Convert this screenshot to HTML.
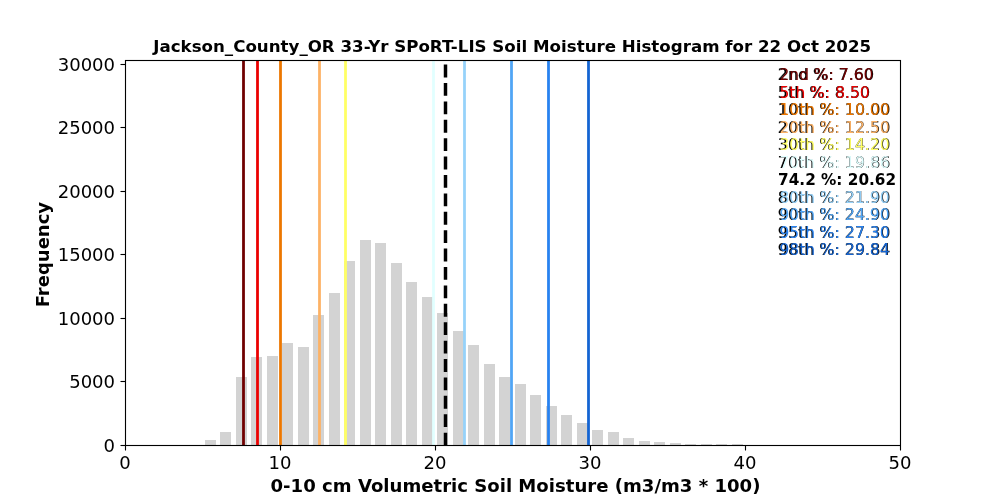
<!DOCTYPE html>
<html lang="en"><head><meta charset="utf-8"><title>Jackson_County_OR Soil Moisture Histogram</title>
<style>html,body{margin:0;padding:0;background:#fff;}body{width:1000px;height:500px;overflow:hidden;}svg{display:block;}text{font-family:"DejaVu Sans","Liberation Sans",sans-serif;fill:#000;}.b{font-weight:bold;}</style></head><body>
<svg width="1000" height="500" viewBox="0 0 1000 500">
<rect x="0" y="0" width="1000" height="500" fill="#fff"/>
<defs><clipPath id="ax"><rect x="125" y="60" width="775" height="385"/></clipPath></defs>
<g fill="#d3d3d3" shape-rendering="crispEdges">
<rect x="205" y="440" width="11" height="5"/>
<rect x="220" y="432" width="11" height="13"/>
<rect x="236" y="377" width="11" height="68"/>
<rect x="251" y="357" width="11" height="88"/>
<rect x="267" y="356" width="11" height="89"/>
<rect x="282" y="343" width="11" height="102"/>
<rect x="298" y="347" width="11" height="98"/>
<rect x="313" y="315" width="11" height="130"/>
<rect x="329" y="293" width="11" height="152"/>
<rect x="344" y="261" width="11" height="184"/>
<rect x="360" y="240" width="11" height="205"/>
<rect x="375" y="243" width="11" height="202"/>
<rect x="391" y="263" width="11" height="182"/>
<rect x="406" y="282" width="11" height="163"/>
<rect x="422" y="297" width="11" height="148"/>
<rect x="437" y="313" width="11" height="132"/>
<rect x="453" y="331" width="11" height="114"/>
<rect x="468" y="345" width="11" height="100"/>
<rect x="484" y="364" width="11" height="81"/>
<rect x="499" y="377" width="11" height="68"/>
<rect x="515" y="384" width="11" height="61"/>
<rect x="530" y="395" width="11" height="50"/>
<rect x="546" y="406" width="11" height="39"/>
<rect x="561" y="415" width="11" height="30"/>
<rect x="577" y="423" width="11" height="22"/>
<rect x="592" y="430" width="11" height="15"/>
<rect x="608" y="432" width="11" height="13"/>
<rect x="623" y="438" width="11" height="7"/>
<rect x="639" y="441" width="11" height="4"/>
<rect x="654" y="442" width="11" height="3"/>
<rect x="670" y="443" width="11" height="2"/>
<rect x="685" y="444" width="11" height="1"/>
<rect x="701" y="444" width="11" height="1"/>
<rect x="716" y="444" width="11" height="1"/>
<rect x="732" y="444" width="11" height="1"/>
</g>
<g clip-path="url(#ax)" fill="none">
<line x1="243.5" y1="445" x2="243.5" y2="60" stroke="rgb(112,0,0)" stroke-width="2.778"/>
<line x1="257.5" y1="445" x2="257.5" y2="60" stroke="rgb(235,0,0)" stroke-width="2.778"/>
<line x1="280.5" y1="445" x2="280.5" y2="60" stroke="rgb(236,119,0)" stroke-width="2.778"/>
<line x1="319.5" y1="445" x2="319.5" y2="60" stroke="rgb(253,178,101)" stroke-width="2.778"/>
<line x1="345.5" y1="445" x2="345.5" y2="60" stroke="rgb(255,255,100)" stroke-width="2.778"/>
<line x1="433.5" y1="445" x2="433.5" y2="60" stroke="rgb(225,255,255)" stroke-width="2.778"/>
<line x1="445.5" y1="445.5" x2="445.5" y2="55" stroke="#000" stroke-width="3.472" stroke-dasharray="12.847 5.556"/>
<line x1="464.5" y1="445" x2="464.5" y2="60" stroke="rgb(150,210,250)" stroke-width="2.778"/>
<line x1="511.5" y1="445" x2="511.5" y2="60" stroke="rgb(80,165,245)" stroke-width="2.778"/>
<line x1="548.5" y1="445" x2="548.5" y2="60" stroke="rgb(40,130,240)" stroke-width="2.778"/>
<line x1="588.5" y1="445" x2="588.5" y2="60" stroke="rgb(20,100,210)" stroke-width="2.778"/>
</g>
<rect x="125.5" y="60.5" width="775" height="385" fill="none" stroke="#000" stroke-width="1.111"/>
<g stroke="#000" stroke-width="1.111">
<line x1="125.5" y1="445.5" x2="125.5" y2="450.5"/>
<line x1="280.5" y1="445.5" x2="280.5" y2="450.5"/>
<line x1="435.5" y1="445.5" x2="435.5" y2="450.5"/>
<line x1="590.5" y1="445.5" x2="590.5" y2="450.5"/>
<line x1="745.5" y1="445.5" x2="745.5" y2="450.5"/>
<line x1="900.5" y1="445.5" x2="900.5" y2="450.5"/>
<line x1="120.5" y1="64.5" x2="125.5" y2="64.5"/>
<line x1="120.5" y1="127.5" x2="125.5" y2="127.5"/>
<line x1="120.5" y1="191.5" x2="125.5" y2="191.5"/>
<line x1="120.5" y1="254.5" x2="125.5" y2="254.5"/>
<line x1="120.5" y1="318.5" x2="125.5" y2="318.5"/>
<line x1="120.5" y1="381.5" x2="125.5" y2="381.5"/>
<line x1="120.5" y1="445.5" x2="125.5" y2="445.5"/>
</g>
<g font-size="18.056">
<text x="124.9" y="469" text-anchor="middle">0</text>
<text x="279.9" y="469" text-anchor="middle">10</text>
<text x="434.9" y="469" text-anchor="middle">20</text>
<text x="589.9" y="469" text-anchor="middle">30</text>
<text x="744.9" y="469" text-anchor="middle">40</text>
<text x="899.9" y="469" text-anchor="middle">50</text>
<text x="115.1" y="71.1" text-anchor="end">30000</text>
<text x="115.1" y="134.1" text-anchor="end">25000</text>
<text x="115.1" y="198.1" text-anchor="end">20000</text>
<text x="115.1" y="261.1" text-anchor="end">15000</text>
<text x="115.1" y="325.1" text-anchor="end">10000</text>
<text x="115.1" y="388.1" text-anchor="end">5000</text>
<text x="115.1" y="452.1" text-anchor="end">0</text>
</g>
<text class="b" x="512.2" y="51.67" font-size="16.667" text-anchor="middle">Jackson_County_OR 33-Yr SPoRT-LIS Soil Moisture Histogram for 22 Oct 2025</text>
<text class="b" x="515.5" y="492" font-size="18.08" text-anchor="middle">0-10 cm Volumetric Soil Moisture (m3/m3 * 100)</text>
<text class="b" transform="translate(49,254.6) rotate(-90)" font-size="18.0" text-anchor="middle">Frequency</text>
<text x="777.8" y="80.0" font-size="15.9" stroke="#000" stroke-width="0.2">2nd %: 7.60</text>
<text x="779.4" y="80.3" font-size="15.55" style="fill:rgb(112,0,0)">2nd %: 7.60</text>
<text x="777.8" y="97.5" font-size="15.9" stroke="#000" stroke-width="0.2">5th %: 8.50</text>
<text x="779.4" y="97.8" font-size="15.55" style="fill:rgb(235,0,0)">5th %: 8.50</text>
<text x="777.8" y="115.0" font-size="15.9" stroke="#000" stroke-width="0.2">10th %: 10.00</text>
<text x="779.4" y="115.3" font-size="15.55" style="fill:rgb(236,119,0)">10th %: 10.00</text>
<text x="777.8" y="132.5" font-size="15.9" stroke="#000" stroke-width="0.2">20th %: 12.50</text>
<text x="779.4" y="132.8" font-size="15.55" style="fill:rgb(253,178,101)">20th %: 12.50</text>
<text x="777.8" y="150.0" font-size="15.9" stroke="#000" stroke-width="0.2">30th %: 14.20</text>
<text x="779.4" y="150.3" font-size="15.55" style="fill:rgb(255,255,100)">30th %: 14.20</text>
<text x="777.8" y="167.5" font-size="15.9" stroke="#000" stroke-width="0.2">70th %: 19.86</text>
<text x="779.4" y="167.8" font-size="15.55" style="fill:rgb(225,255,255)">70th %: 19.86</text>
<text class="b" x="778.1" y="185.0" font-size="15.278">74.2 %: 20.62</text>
<text x="777.8" y="202.5" font-size="15.9" stroke="#000" stroke-width="0.2">80th %: 21.90</text>
<text x="779.4" y="202.8" font-size="15.55" style="fill:rgb(150,210,250)">80th %: 21.90</text>
<text x="777.8" y="220.0" font-size="15.9" stroke="#000" stroke-width="0.2">90th %: 24.90</text>
<text x="779.4" y="220.3" font-size="15.55" style="fill:rgb(80,165,245)">90th %: 24.90</text>
<text x="777.8" y="237.5" font-size="15.9" stroke="#000" stroke-width="0.2">95th %: 27.30</text>
<text x="779.4" y="237.8" font-size="15.55" style="fill:rgb(40,130,240)">95th %: 27.30</text>
<text x="777.8" y="255.0" font-size="15.9" stroke="#000" stroke-width="0.2">98th %: 29.84</text>
<text x="779.4" y="255.3" font-size="15.55" style="fill:rgb(20,100,210)">98th %: 29.84</text>
</svg></body></html>
